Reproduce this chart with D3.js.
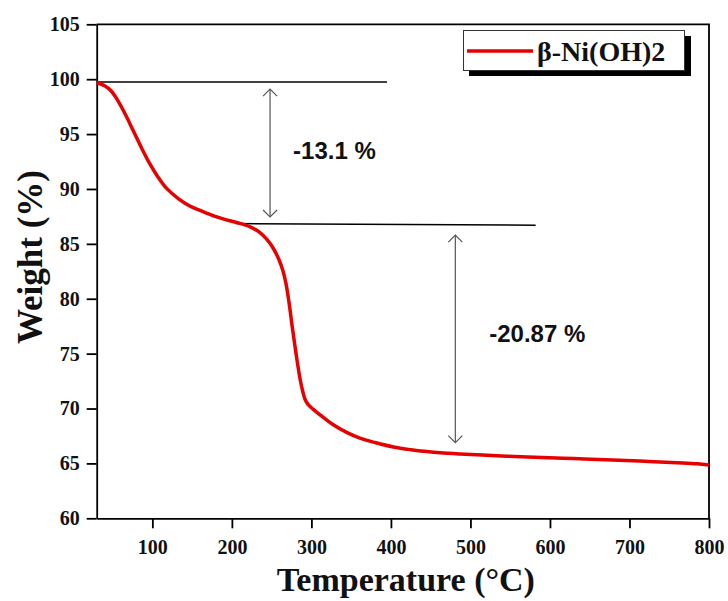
<!DOCTYPE html>
<html>
<head>
<meta charset="utf-8">
<script src="https://cdn.jsdelivr.net/npm/d3@7"></script>
<style>
  html, body { margin: 0; padding: 0; background: #fff; }
  svg { display: block; }
</style>
</head>
<body>
<svg id="chart" width="728" height="601"></svg>
<script>
// TGA curve of beta-Ni(OH)2: temperature (°C) vs remaining weight (%)
const temperature = [30, 40, 48, 57, 66, 76, 86, 96, 107, 118, 133, 147, 160, 177, 190, 206, 223, 235, 244, 252, 259, 264, 268, 272, 276, 279.5, 283, 286, 289, 292, 296, 302, 315, 328, 345, 361, 380, 403, 425, 445, 462, 487, 515, 546, 590, 630, 670, 713, 760, 785, 800];
const weight = [99.7, 99.4, 98.95, 98.0, 96.8, 95.3, 93.8, 92.4, 91.1, 90.05, 89.1, 88.45, 88.05, 87.55, 87.25, 86.95, 86.55, 86.05, 85.4, 84.6, 83.6, 82.6, 81.4, 79.6, 77.4, 75.6, 73.9, 72.6, 71.6, 70.85, 70.35, 69.95, 69.2, 68.5, 67.8, 67.3, 66.9, 66.5, 66.25, 66.08, 65.97, 65.86, 65.76, 65.66, 65.54, 65.44, 65.34, 65.22, 65.06, 64.96, 64.85];

const xTicks = [100, 200, 300, 400, 500, 600, 700, 800];
const yTicks = [60, 65, 70, 75, 80, 85, 90, 95, 100, 105];
const seriesName = "β-Ni(OH)2";

// Mass-loss steps: reference lines and double arrows
const stepLines = [
  { t0: 30, w0: 99.75, t1: 395, w1: 99.75 },
  { t0: 205, w0: 86.85, t1: 582, w1: 86.7 }
];
const stepArrows = [
  { t: 248, wTop: 99.1, wBottom: 87.45, label: "-13.1 %", labelT: 329, labelW: 92.75 },
  { t: 481, wTop: 85.8, wBottom: 66.9, label: "-20.87 %", labelT: 584, labelW: 76.1 }
];

const svg = d3.select("#chart");
const plotLeft = 96.7, plotRight = 709, plotTop = 24.3, plotBottom = 518.3;

const x = d3.scaleLinear().domain([30, 800]).range([plotLeft, plotRight]);
const y = d3.scaleLinear().domain([60, 105]).range([plotBottom, plotTop]);

const serif = "'Liberation Serif', 'Times New Roman', serif";
const sans = "'Liberation Sans', Arial, sans-serif";

// Axes
const xAxis = svg.append("g")
  .attr("transform", `translate(0,${plotBottom})`)
  .call(d3.axisBottom(x).tickValues(xTicks).tickSize(10).tickSizeOuter(0).tickPadding(7));
const yAxis = svg.append("g")
  .attr("transform", `translate(${plotLeft},0)`)
  .call(d3.axisLeft(y).tickValues(yTicks).tickSize(10).tickSizeOuter(0).tickPadding(7));

[xAxis, yAxis].forEach(g => {
  g.selectAll("path.domain").attr("stroke", "#000").attr("stroke-width", 1.8);
  g.selectAll(".tick line").attr("stroke", "#000").attr("stroke-width", 1.8);
  g.selectAll(".tick text")
    .attr("fill", "#111")
    .style("font-family", serif)
    .style("font-weight", "bold")
    .style("font-size", "20px");
});
xAxis.selectAll(".tick text").attr("dy", "0.95em");

// Top and right edges of the plot frame
svg.append("path")
  .attr("d", `M${plotLeft},${plotTop}H${plotRight}V${plotBottom}`)
  .attr("fill", "none").attr("stroke", "#000").attr("stroke-width", 1.8);

// Axis titles
svg.append("text")
  .attr("x", (plotLeft + plotRight) / 2 + 3)
  .attr("y", 591)
  .attr("text-anchor", "middle")
  .style("font-family", serif).style("font-weight", "bold").style("font-size", "34px")
  .attr("fill", "#111")
  .text("Temperature (°C)");
svg.append("text")
  .attr("transform", "translate(42,257) rotate(-90)")
  .attr("text-anchor", "middle")
  .style("font-family", serif).style("font-weight", "bold").style("font-size", "35px")
  .attr("fill", "#111")
  .text("Weight (%)");

// Step reference lines
svg.append("g").selectAll("line").data(stepLines).join("line")
  .attr("x1", d => x(d.t0)).attr("y1", d => y(d.w0))
  .attr("x2", d => x(d.t1)).attr("y2", d => y(d.w1))
  .attr("stroke", "#000").attr("stroke-width", 1.5);

// Double-headed arrows
const arrowG = svg.append("g").attr("stroke", "#555").attr("stroke-width", 1.2).attr("fill", "none");
stepArrows.forEach(a => {
  const ax = x(a.t), y1 = y(a.wTop), y2 = y(a.wBottom);
  arrowG.append("line").attr("x1", ax).attr("y1", y1).attr("x2", ax).attr("y2", y2);
  arrowG.append("path").attr("d", `M${ax - 7},${y1 + 7}L${ax},${y1}L${ax + 7},${y1 + 7}`);
  arrowG.append("path").attr("d", `M${ax - 7},${y2 - 7}L${ax},${y2}L${ax + 7},${y2 - 7}`);
});
svg.append("g").selectAll("text").data(stepArrows).join("text")
  .attr("x", d => x(d.labelT)).attr("y", d => y(d.labelW))
  .attr("text-anchor", "middle")
  .style("font-family", sans).style("font-weight", "bold").style("font-size", "24px")
  .attr("fill", "#111")
  .text(d => d.label);

// TGA curve
const points = temperature.map((t, i) => [t, weight[i]]);
svg.append("path")
  .datum(points)
  .attr("fill", "none")
  .attr("stroke", "#e60000")
  .attr("stroke-width", 3.5)
  .attr("stroke-linejoin", "round")
  .attr("d", d3.line().x(d => x(d[0])).y(d => y(d[1])).curve(d3.curveCatmullRom.alpha(0.5)));

// Legend with drop shadow
const lg = svg.append("g");
lg.append("rect").attr("x", 469).attr("y", 36).attr("width", 222).attr("height", 40).attr("fill", "#000");
lg.append("rect").attr("x", 463.5).attr("y", 30.5).attr("width", 221).attr("height", 40)
  .attr("fill", "#fff").attr("stroke", "#333").attr("stroke-width", 1);
lg.append("line").attr("x1", 467).attr("x2", 533).attr("y1", 51).attr("y2", 51)
  .attr("stroke", "#e60000").attr("stroke-width", 3.5);
lg.append("text").attr("x", 537).attr("y", 60.5)
  .style("font-family", serif).style("font-weight", "bold").style("font-size", "28px")
  .attr("fill", "#111")
  .text(seriesName);
</script>
</body>
</html>
